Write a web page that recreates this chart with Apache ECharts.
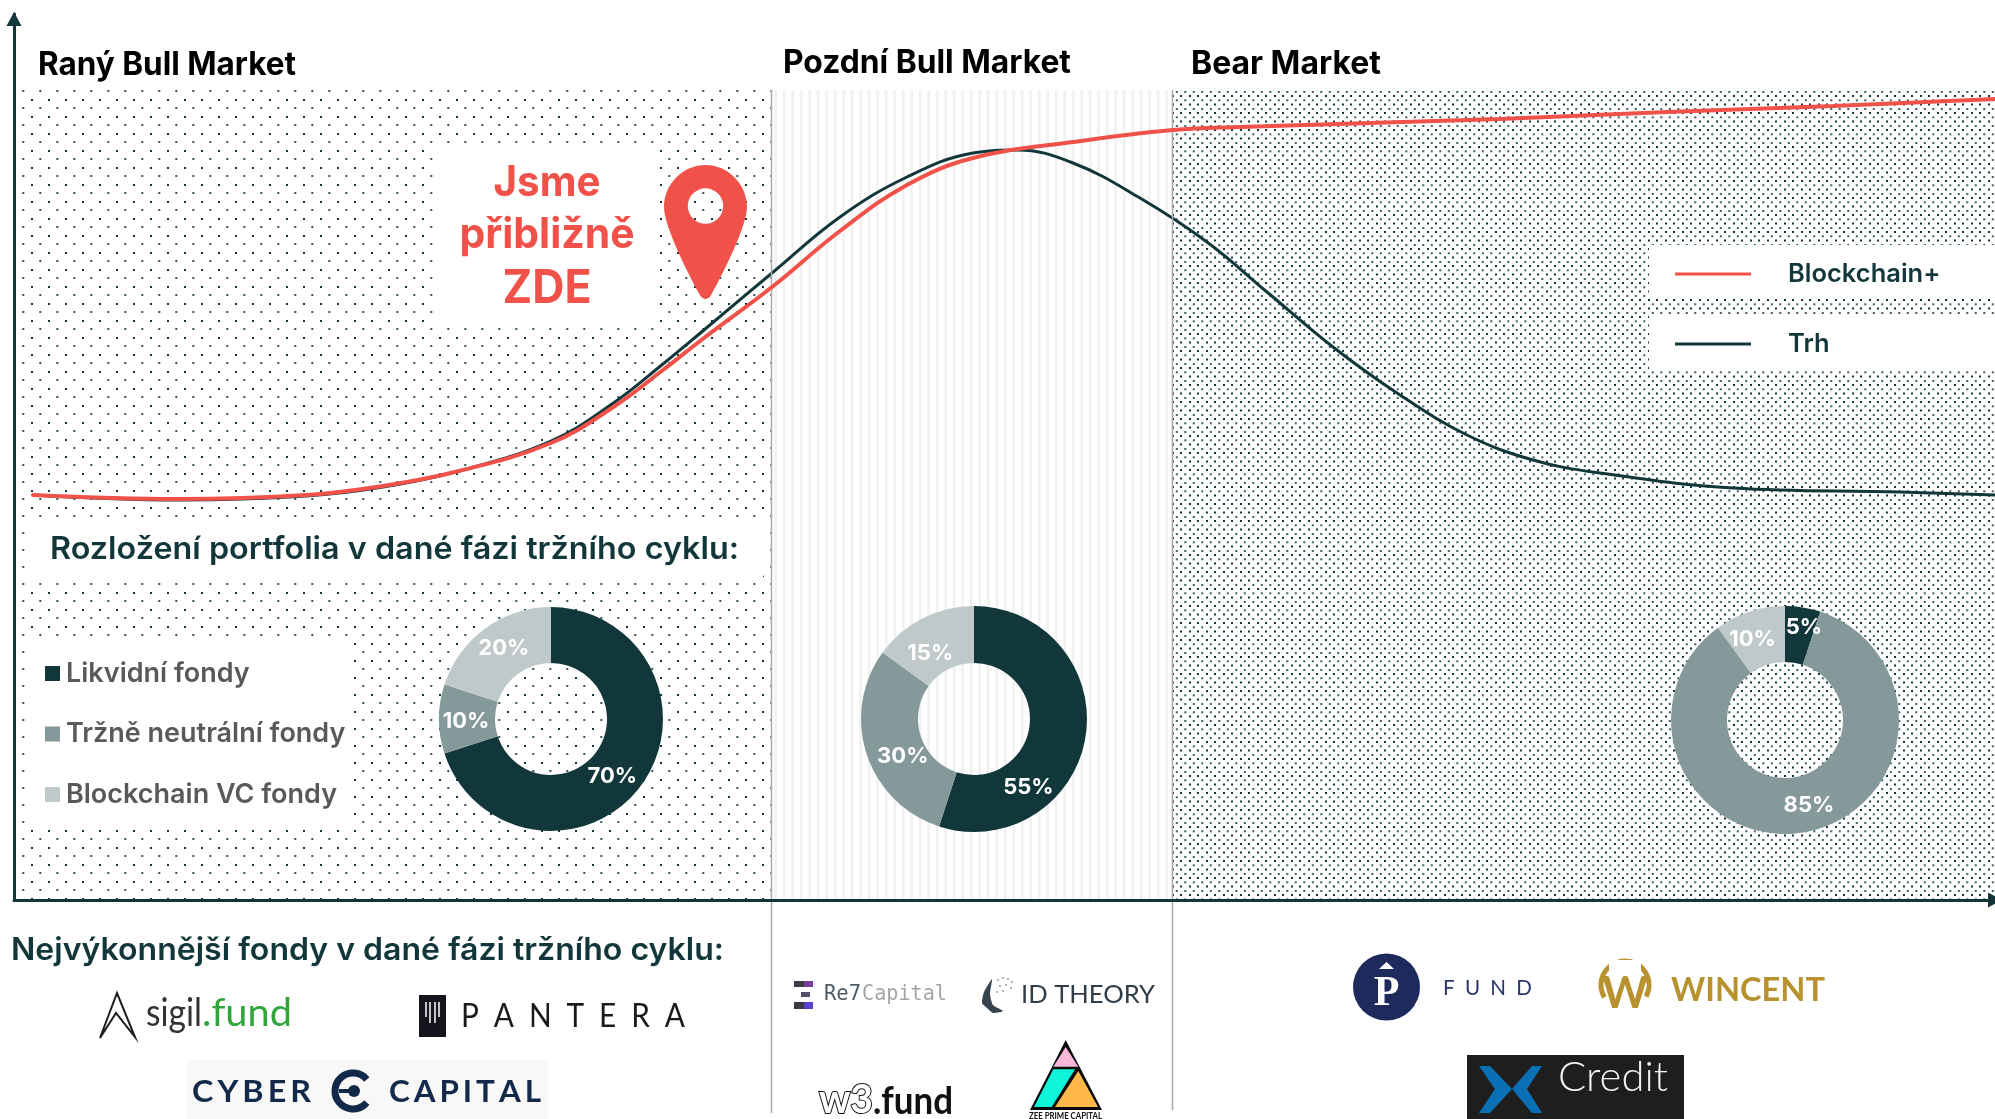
<!DOCTYPE html>
<html><head><meta charset="utf-8">
<style>html,body{margin:0;padding:0;background:#fff}#c{width:1995px;height:1119px}</style>
<script src="https://cdn.jsdelivr.net/npm/echarts@6/dist/echarts.min.js"></script>
</head><body><div id="c"></div>
<script>
// ---------- data ----------
const phaseNames = ['Raný Bull Market', 'Pozdní Bull Market', 'Bear Market'];
const phaseStarts = [3, 758, 1159];
const phaseEnds = [757, 1158, 1981];
const phaseTop = [810, 810, 810];

const trhX = [19,165,292,369,445,537,598,649,690,758,826,893,959,1003,1059,1126,1193,1253,1319,1386,1453,1519,1586,1719,1886,1981];
const trhY = [405,400,404,413,429,459,496,536,570,627,683,723,747,750,737,702,658,608,553,505,465,440,427,412,408,405];
const blockX = [19,165,292,369,445,537,598,649,690,758,826,893,959,1059,1159,1226,1486,1653,1819,1981];
const blockY = [405,401,405,414,429,457,492,530,562,613,669,715,742,758,770,773,781,788,794,801];

const fundTypes = ['Likvidní fondy', 'Tržně neutrální fondy', 'Blockchain VC fondy'];
const earlyMix = [70, 10, 20];
const lateMix = [55, 30, 15];
const bearMix = [5, 85, 10];

const DARK = '#12373a', MID = '#86999a', LIGHT = '#c0c9c9', RED = '#f0524a';
const SANS = 'Inter, "Noto Sans", sans-serif';

// ---------- patterns ----------
function tile(w, h, draw) {
  const c = document.createElement('canvas'); c.width = w; c.height = h;
  draw(c.getContext('2d')); return c;
}
const sparse = tile(17, 17, g => {
  g.fillStyle = DARK;
  g.fillRect(14, 14, 2, 2);
  g.globalAlpha = .85;
  g.fillRect(5.3, 5, 2, 2);
});
const dense = tile(17, 17, g => {
  g.fillStyle = DARK;
  [[7, 1.5], [16, 1.5], [7, 10], [16, 10]].forEach(p => g.fillRect(p[0], p[1], 2, 2));
  g.fillRect(-1, 1.5, 1, 2); g.fillRect(-1, 10, 1, 2);
  g.fillRect(0, 1.5, 1, 2); g.fillRect(0, 10, 1, 2);
  g.globalAlpha = .8;
  [[11.3, 14.3], [2.8, 14.3], [11.3, 6], [2.8, 6]].forEach(p => g.fillRect(p[0], p[1], 2, 2));
});
const stripes = tile(17, 4, g => {
  g.fillStyle = '#f1f1f1';
  g.fillRect(9.35, 0, 2.7, 4);
  g.fillRect(0.85, 0, 2.7, 4);
});
const fills = [sparse, stripes, dense];

// ---------- text helper ----------
const mc = document.createElement('canvas').getContext('2d');
function T(text, x, y, size, color, weight, opt) {
  opt = opt || {};
  const family = opt.family || SANS;
  const font = weight + ' ' + size + 'px ' + family;
  let sx = 1;
  if (opt.w) { mc.font = font; sx = opt.w / mc.measureText(text).width; }
  return { type: 'text', x, y, scaleX: sx, z: opt.z || 3, silent: true,
    style: { text, font, fill: color, textAlign: opt.align || 'left', textVerticalAlign: 'middle',
      stroke: opt.stroke, lineWidth: opt.lw || 0 } };
}
const R = (x, y, w, h, fill, z, r) => ({ type: 'rect', silent: true, z: z || 3, shape: { x, y, width: w, height: h, r: r || 0 }, style: { fill } });
const P = (pts, fill, z) => ({ type: 'polygon', silent: true, z: z || 3, shape: { points: pts }, style: { fill } });
const L = (x1, y1, x2, y2, stroke, lw, z) => ({ type: 'line', silent: true, z: z || 3, shape: { x1, y1, x2, y2 }, style: { stroke, lineWidth: lw } });
const C = (cx, cy, r, fill, z) => ({ type: 'circle', silent: true, z: z || 3, shape: { cx, cy, r }, style: { fill } });

const graphics = [
  // white panels over the textures
  R(434, 148, 224, 175, '#fff', 2),
  R(28, 520, 737, 58, '#fff', 2, 6),
  R(30, 640, 322, 188, '#fff', 2),
  R(1649, 245, 346, 54, '#fff', 2),
  R(1649, 316, 346, 53, '#fff', 2),
  // phase boundaries
  L(771.5, 90, 771.5, 1113, '#a9a9a9', 1.5, 6),
  L(1172.5, 90, 1172.5, 1110, '#a9a9a9', 1.5, 6),
  // phase titles
  T(phaseNames[0], 38, 65, 32, '#000', 700, { w: 258 }),
  T(phaseNames[1], 783, 63, 32, '#000', 700, { w: 288 }),
  T(phaseNames[2], 1191, 64.5, 32, '#000', 700, { w: 190 }),
  // callout
  T('Jsme', 547, 183, 42, RED, 700, { align: 'center', w: 107 }),
  T('přibližně', 547, 235, 42, RED, 700, { align: 'center', w: 175 }),
  T('ZDE', 547, 289, 46, RED, 700, { align: 'center', w: 89 }),
  // headings
  T('Rozložení portfolia v dané fázi tržního cyklu:', 50, 550, 31, DARK, 600, { w: 689 }),
  T('Nejvýkonnější fondy v dané fázi tržního cyklu:', 11, 951, 31, DARK, 600, { w: 713 }),

  // sigil.fund
  { type: 'polyline', silent: true, z: 3, shape: { points: [[100, 1038], [117, 993], [135, 1037], [116, 1013], [100, 1038]] }, style: { stroke: '#1c1c1c', lineWidth: 2, fill: 'none' } },
  T('sigil', 146, 1014, 38, '#333', 400, { family: 'Lato', w: 56 }),
  T('.fund', 202, 1014, 38, '#2fa53c', 400, { family: 'Lato', w: 90 }),
  // PANTERA
  R(419, 995, 27, 42, '#14141c'),
  L(426, 1002, 426, 1017, '#fff', 1.5), L(430, 1002, 430, 1023, '#fff', 1.5), L(435, 1002, 435, 1023, '#fff', 1.5), L(439, 1002, 439, 1017, '#fff', 1.5),
  T('P\u2002A\u2002N\u2002T\u2002E\u2002R\u2002A', 461, 1016, 33, '#1a1a1a', 400, { family: 'Lato', w: 224 }),
  // CYBER CAPITAL
  R(187, 1060, 361, 59, '#f8f8f7', 2),
  T('C\u2009Y\u2009B\u2009E\u2009R', 192, 1092, 30, '#12294a', 700, { family: 'Lato', w: 119 }),
  T('C\u2009A\u2009P\u2009I\u2009T\u2009A\u2009L', 389, 1092, 30, '#12294a', 700, { family: 'Lato', w: 152 }),
  { type: 'arc', silent: true, z: 3, shape: { cx: 353, cy: 1091, r: 18, startAngle: -0.7, endAngle: 0.7, clockwise: false }, style: { stroke: '#12294a', lineWidth: 7, fill: 'none' } },
  C(354, 1091, 6, '#12294a'), R(339, 1089, 12, 4, '#12294a'),

  // Re7Capital
  R(794, 981, 10, 6, '#3b3b45'), R(804, 981, 9, 6, '#7d3f9f'),
  R(801, 992, 9, 5, '#55506a'),
  R(794, 1002, 10, 7, '#3b3b45'), R(804, 1002, 9, 7, '#5b3fce'),
  T('Re7', 824, 995, 21, '#4c5a66', 400, { family: '"DejaVu Sans Mono"', w: 37 }),
  T('Capital', 862, 995, 21, '#a4a6a6', 400, { family: '"DejaVu Sans Mono"', w: 85 }),
  // ID THEORY
  { type: 'polygon', silent: true, z: 3, shape: { smooth: 0.2, points: [[992, 979], [984, 992], [982, 1003], [987, 1008], [993, 1013], [1003, 1011], [993, 1005], [990, 994]] }, style: { fill: '#38454f' } },
  C(998, 980, 1, '#8f9ba6'), C(1003, 978, 1, '#8f9ba6'), C(1008, 979, 1, '#8f9ba6'), C(1012, 982, 1, '#8f9ba6'), C(1000, 986, 1, '#8f9ba6'), C(1006, 985, 1, '#8f9ba6'), C(1011, 988, 1, '#8f9ba6'), C(1003, 991, 1, '#8f9ba6'), C(997, 992, 1, '#8f9ba6'),
  T('ID THEORY', 1021, 995, 25, '#2f3d49', 400, { family: 'Lato', w: 134 }),
  // w3.fund
  T('w3', 819, 1100, 40, '#fff', 700, { family: 'Lato', w: 54, stroke: '#111', lw: 2 }),
  T('.fund', 873, 1102, 38, '#111', 700, { family: 'Lato', w: 80 }),
  // Zee Prime
  P([[1065.7, 1040], [1030, 1110], [1102, 1110]], '#0a0a0a'),
  P([[1065.7, 1047], [1053.3, 1066.7], [1078.3, 1066.7]], '#f9b7d8'),
  P([[1053.3, 1069.3], [1075, 1069.3], [1051.7, 1107], [1034, 1107]], '#0ef5dc'),
  P([[1078.3, 1071], [1098, 1107], [1055, 1107]], '#ffb84a'),
  T('ZEE PRIME CAPITAL', 1029, 1116, 9, '#111', 700, { family: 'Lato', w: 73 }),

  // P FUND
  C(1386.5, 987, 33.5, '#1f2a5c'),
  T('P', 1386.5, 994, 42, '#fff', 700, { family: '"Liberation Serif"', align: 'center' }),
  P([[1386.5, 962], [1394, 969], [1379, 969]], '#fff'),
  T('F\u2002U\u2002N\u2002D', 1443, 988, 22, '#2a3568', 400, { family: 'Lato', w: 89 }),
  // WINCENT
  { type: 'arc', silent: true, z: 3, shape: { cx: 1625, cy: 985, r: 24, startAngle: 2.6, endAngle: 0.5, clockwise: true }, style: { stroke: '#b8922f', lineWidth: 5, fill: 'none' } },
  R(1609, 960, 32, 12, '#fff', 3),
  T('W', 1625, 994, 44, '#b8922f', 700, { family: 'Lato', align: 'center', w: 46 }),
  T('WINCENT', 1671, 990, 33, '#b8922f', 700, { family: 'Lato', w: 154 }),
  // X Credit
  R(1467, 1055, 217, 64, '#1e1e1e', 2),
  P([[1479, 1066], [1490, 1066], [1512, 1089], [1490, 1113], [1479, 1113], [1495, 1089]], '#0a70b6'),
  P([[1542, 1066], [1532, 1066], [1512, 1089], [1532, 1113], [1542, 1113], [1527, 1089]], '#0a70b6'),
  T('Credit', 1558, 1077, 42, '#f2f2f2', 300, { family: 'Lato', w: 110 })
];

function pie(center, r0, r1, values, offsets) {
  return {
    type: 'pie', z: 4, center, radius: [r0, r1], startAngle: 90, clockwise: true, silent: true,
    itemStyle: { borderWidth: 0 }, color: [DARK, MID, LIGHT],
    data: fundTypes.map((name, i) => ({ name, value: values[i] })),
    label: { show: true, position: 'inside', formatter: '{c}%', color: '#fff', fontFamily: SANS, fontWeight: 700, fontSize: 22 },
    labelLine: { show: false },
    labelLayout: p => ({ dx: offsets[p.dataIndex][0], dy: offsets[p.dataIndex][1] })
  };
}

const chart = echarts.init(document.getElementById('c'), null, { renderer: 'canvas', width: 1995, height: 1119 });
chart.setOption({
  animation: false,
  backgroundColor: '#fff',
  grid: { left: 14, right: 0, top: 14, bottom: 219 },
  xAxis: { type: 'value', min: 0, max: 1981, z: 7, splitLine: { show: false }, axisTick: { show: false }, axisLabel: { show: false },
    axisLine: { show: true, onZero: false, lineStyle: { color: DARK, width: 3 }, symbol: ['none', 'triangle'], symbolSize: [15, 14], symbolOffset: [0, 0] } },
  yAxis: { type: 'value', min: 0, max: 886, z: 7, splitLine: { show: false }, axisTick: { show: false }, axisLabel: { show: false },
    axisLine: { show: true, onZero: false, lineStyle: { color: DARK, width: 3 }, symbol: ['none', 'triangle'], symbolSize: [15, 14], symbolOffset: [0, -5] } },
  legend: [
    { data: ['Blockchain+', 'Trh'], orient: 'vertical', left: 1675, top: 261, padding: 0, icon: 'rect', itemWidth: 76, itemHeight: 3, itemGap: 44, z: 6, selectedMode: false,
      textStyle: { color: DARK, fontFamily: SANS, fontWeight: 600, fontSize: 25.5, padding: [0, 0, 0, 32] } },
    { data: fundTypes, orient: 'vertical', left: 45, top: 660, padding: 0, icon: 'rect', itemWidth: 15, itemHeight: 15, itemGap: 33.5, z: 6, selectedMode: false,
      textStyle: { color: '#595959', fontFamily: SANS, fontWeight: 600, fontSize: 27, padding: [0, 0, 0, 1] } }
  ],
  graphic: { elements: graphics },
  series: [
    { name: 'Blockchain+', type: 'line', z: 6, data: blockX.map((x, i) => [x, blockY[i]]), smooth: 0.4, showSymbol: false, symbol: 'none', silent: true,
      color: RED, lineStyle: { color: RED, width: 4, cap: 'round' },
      markArea: { silent: true, z: 1, data: phaseNames.map((name, i) => [
        { xAxis: phaseStarts[i], yAxis: 0, itemStyle: { color: { image: fills[i], repeat: 'repeat' }, opacity: 1 } },
        { xAxis: phaseEnds[i], yAxis: phaseTop[i] }
      ]) } },
    { name: 'Trh', type: 'line', z: 5, data: trhX.map((x, i) => [x, trhY[i]]), smooth: 0.4, showSymbol: false, symbol: 'none', silent: true,
      color: DARK, lineStyle: { color: DARK, width: 3 } },
    { name: 'Jsme zde', type: 'scatter', z: 7, silent: true, data: [[691.5, 668]], symbolSize: [83, 134], itemStyle: { color: RED, opacity: 1 },
      symbol: 'path://M41.5,0 C64,0 83,19 83,42 C83,60 61,105 47,130 C44,135 39,135 36,130 C22,105 0,60 0,42 C0,19 19,0 41.5,0 Z M59.2,41 A17.7,17.7 0 0 0 23.8,41 A17.7,17.7 0 0 0 59.2,41 Z' },
    pie([551, 719], 56, 112, earlyMix, [[-9, 6], [2, 2], [4, 0]]),
    pie([974, 719], 56, 113, lateMix, [[-32, 55], [12, 10], [-4, 12]]),
    pie([1785, 720], 58, 114, bearMix, [[5, -5], [10, -3], [-5, 4]])
  ]
});
</script></body></html>
